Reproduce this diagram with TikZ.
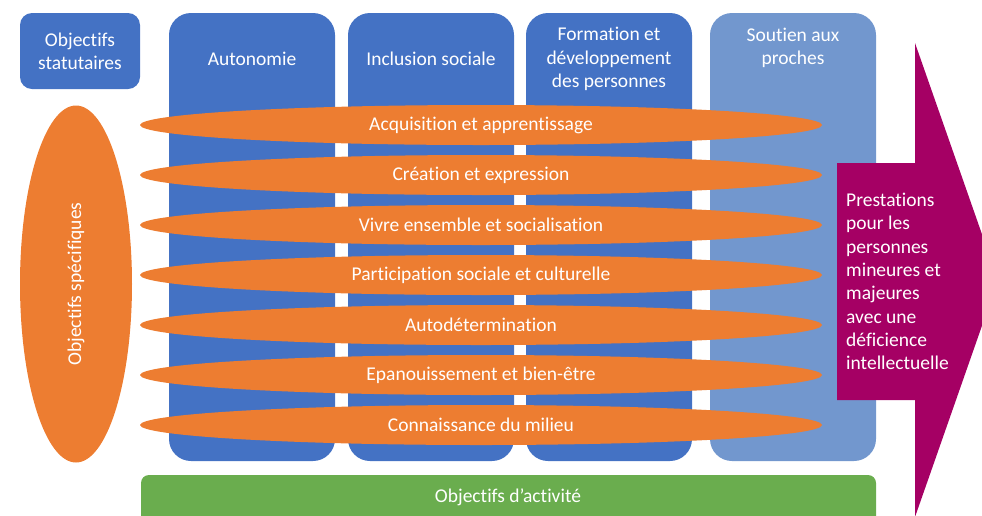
\documentclass[tikz,border=0pt]{standalone}
\usepackage{fontspec}
\setmainfont{Carlito}[RawFeature={-liga;-clig;-calt;-dlig}]
\usetikzlibrary{shapes.geometric}

\definecolor{colblue}{RGB}{68,114,196}
\definecolor{paleblue}{RGB}{114,151,206}
\definecolor{orangefill}{RGB}{237,125,49}
\definecolor{greenfill}{RGB}{106,173,78}
\definecolor{magentafill}{RGB}{165,0,100}

\tikzset{
	statbox/.style={fill=colblue, rounded corners=12pt, text=white, align=center, inner sep=0pt},
	coltitle/.style={text=white, align=center, inner sep=0pt},
	oval/.style={ellipse, fill=orangefill, text=white, inner sep=0pt},
	whitetext/.style={text=white, inner sep=0pt}
}

\begin{document}
\begin{tikzpicture}[x=1pt, y=-1pt, font=\fontsize{19.5}{23.3}\selectfont]
	\useasboundingbox (0,0) rectangle (982,515);

	% statutory goals
	\node[statbox, minimum width=120pt, minimum height=76pt] (statut) at (80,51) {Objectifs\\statutaires};

	% columns #left#colour#name#title-y#title
	\foreach \x/\col/\name/\ty/\txt in {
		169/colblue/autonomie/59/{Autonomie},
		348/colblue/inclusion/59/{Inclusion sociale},
		526/colblue/formation/59/{Formation et\\développement\\des personnes},
		710/paleblue/soutien/48/{Soutien aux\\proches}} {
		\fill[\col, rounded corners=22pt] (\x,13) rectangle (\x + 166,461);
		\node[coltitle] (\name) at (\x + 83,\ty) {\txt};
	}

	% specific goals
	\node[oval, minimum width=357pt, minimum height=112pt, rotate=90] (specif) at (76,284) {Objectifs spécifiques};

	\foreach \i/\txt in {
		0/Acquisition et apprentissage,
		1/Création et expression,
		2/Vivre ensemble et socialisation,
		3/Participation sociale et culturelle,
		4/Autodétermination,
		5/Epanouissement et bien-être,
		6/Connaissance du milieu} {
		\node[oval, minimum width=682pt, minimum height=40pt] (goal\i) at (481,125 + 50 * \i) {\txt};
	}

	% services arrow
	\fill[magentafill] (837,163) -- (915,163) -- (915,43) -- (998,280) -- (915,517) -- (915,400) -- (837,400) -- cycle;
	\node[whitetext, anchor=north west, align=left] (prest) at (846,193) {Prestations\\pour les\\personnes\\mineures et\\majeures\\avec une\\déficience\\intellectuelle};

	% activity goals
	\fill[greenfill, rounded corners=8pt] (141,475) rectangle (876,540);
	\node[whitetext] (activ) at (508,497) {Objectifs d’activité};
\end{tikzpicture}
\end{document}
